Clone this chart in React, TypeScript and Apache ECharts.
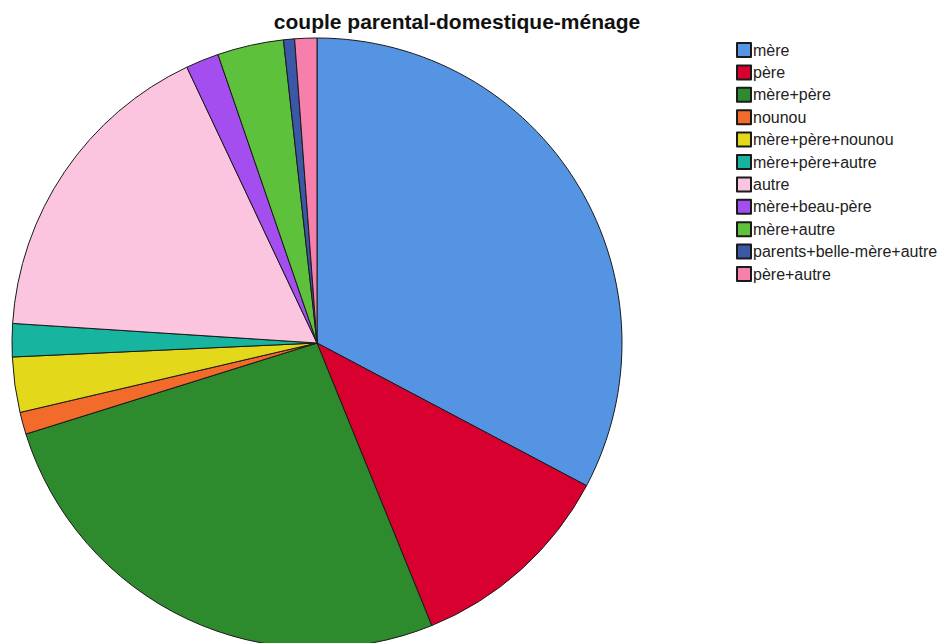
import React, { useEffect, useRef } from "react";
import * as echarts from "echarts";

const categories = [
  "mère",
  "père",
  "mère+père",
  "nounou",
  "mère+père+nounou",
  "mère+père+autre",
  "autre",
  "mère+beau-père",
  "mère+autre",
  "parents+belle-mère+autre",
  "père+autre",
];
const counts = [56, 19, 45, 2, 5, 3, 29, 3, 6, 1, 2];
const colors = [
  "#5594e2",
  "#d7002e",
  "#2d8a2d",
  "#f26b2a",
  "#e4d81b",
  "#17b4a0",
  "#fbc5e0",
  "#a54ef0",
  "#5ec13c",
  "#3a58a6",
  "#f77fab",
];
const title = "couple parental-domestique-ménage";

export default function App() {
  const ref = useRef<HTMLDivElement>(null);
  useEffect(() => {
    document.body.style.margin = "0";
    const chart = echarts.init(ref.current!, null, { renderer: "svg" });
    chart.setOption({
      animation: false,
      backgroundColor: "#ffffff",
      title: {
        text: title,
        left: 452,
        top: 6,
        textAlign: "center",
        textStyle: {
          fontFamily: "Liberation Sans, Arial, sans-serif",
          fontSize: 21,
          fontWeight: "bold",
          color: "#111111",
        },
      },
      legend: {
        orient: "vertical",
        left: 731,
        top: 37,
        padding: 5,
        itemWidth: 14,
        itemHeight: 14,
        itemGap: 6.4,
        icon: "rect",
        data: categories,
        textStyle: {
          fontFamily: "Liberation Sans, Arial, sans-serif",
          fontSize: 16,
          lineHeight: 16,
          color: "#222222",
          padding: [0, 0, 0, -3],
        },
      },
      series: [
        {
          type: "pie",
          center: [317, 343],
          radius: [0, 305],
          startAngle: 90,
          clockwise: true,
          label: { show: false },
          labelLine: { show: false },
          emphasis: { disabled: true },
          itemStyle: { borderColor: "#1a1a1a", borderWidth: 1 },
          data: categories.map((name, i) => ({
            name,
            value: counts[i],
            itemStyle: { color: colors[i] },
          })),
        },
      ],
    });
    return () => chart.dispose();
  }, []);
  return (
    <div
      ref={ref}
      style={{ position: "fixed", left: 0, top: 0, width: 952, height: 643 }}
    />
  );
}
